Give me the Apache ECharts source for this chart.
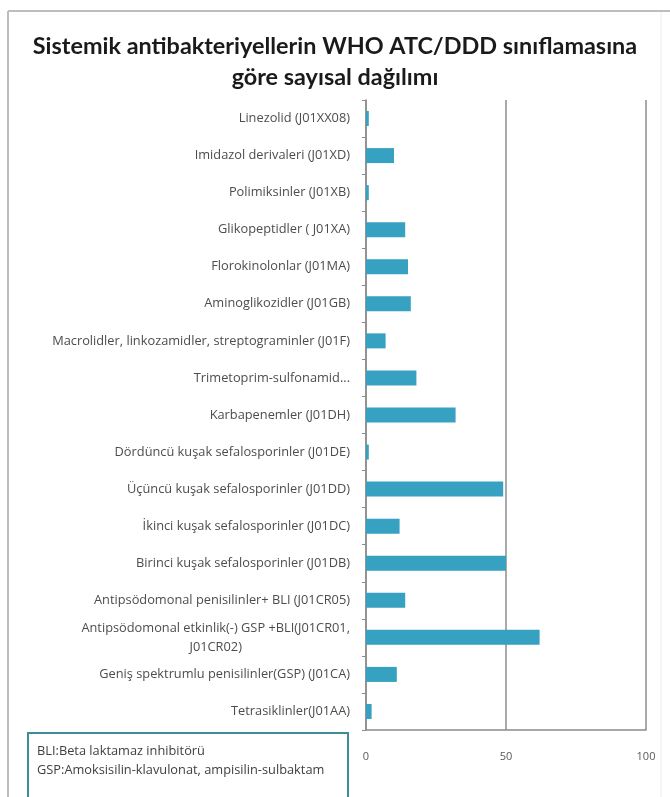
<!DOCTYPE html>
<html>
<head>
<meta charset="utf-8">
<script src="https://cdn.jsdelivr.net/npm/echarts@6/dist/echarts.min.js"></script>
<style>
  html, body { margin: 0; padding: 0; background: #ffffff; }
  #chart { width: 670px; height: 797px; }
</style>
</head>
<body>
<div id="chart"></div>
<script>
// Antibacterial classes (top to bottom) and their counts
const categories = [
  'Linezolid (J01XX08)',
  'Imidazol derivaleri (J01XD)',
  'Polimiksinler (J01XB)',
  'Glikopeptidler ( J01XA)',
  'Florokinolonlar (J01MA)',
  'Aminoglikozidler (J01GB)',
  'Macrolidler, linkozamidler, streptograminler (J01F)',
  'Trimetoprim-sulfonamid...',
  'Karbapenemler (J01DH)',
  'Dördüncü kuşak sefalosporinler (J01DE)',
  'Üçüncü kuşak sefalosporinler (J01DD)',
  'İkinci kuşak sefalosporinler (J01DC)',
  'Birinci kuşak sefalosporinler (J01DB)',
  'Antipsödomonal penisilinler+ BLI (J01CR05)',
  'Antipsödomonal etkinlik(-) GSP +BLI(J01CR01,\nJ01CR02)',
  'Geniş spektrumlu penisilinler(GSP) (J01CA)',
  'Tetrasiklinler(J01AA)'
];
const counts = [1, 10, 1, 14, 15, 16, 7, 18, 32, 1, 49, 12, 50, 14, 62, 11, 2];
const xTicks = [0, 50, 100];

const titleLines = ['Sistemik antibakteriyellerin WHO ATC/DDD sınıflamasına', 'göre sayısal dağılımı'];
const noteLines = ['BLI:Beta laktamaz inhibitörü', 'GSP:Amoksisilin-klavulonat, ampisilin-sulbaktam'];

const chart = echarts.init(document.getElementById('chart'), null, { renderer: 'canvas' });

const labelFont = 'Open Sans';
const labelSize = 12.8;
const labelColor = '#4d4d4d';

chart.setOption({
  backgroundColor: '#ffffff',
  animation: false,
  title: {
    text: titleLines.join('\n'),
    left: 'center',
    top: 26,
    textStyle: {
      fontFamily: 'Lato',
      fontWeight: 'bold',
      fontSize: 23.4,
      lineHeight: 31,
      color: '#1a1a1a'
    }
  },
  grid: { left: 366, right: 24, top: 100, bottom: 67 },
  xAxis: {
    type: 'value',
    min: xTicks[0],
    max: xTicks[xTicks.length - 1],
    interval: 50,
    axisLine: { show: true, lineStyle: { color: '#8c8c8c', width: 1.5 } },
    axisTick: { show: false },
    splitLine: { show: true, lineStyle: { color: '#8c8c8c', width: 1.5 } },
    axisLabel: {
      margin: 21,
      fontFamily: labelFont,
      fontSize: 11,
      color: '#595959'
    }
  },
  yAxis: {
    type: 'category',
    inverse: true,
    data: categories,
    axisLine: { show: true, lineStyle: { color: '#8c8c8c', width: 1.5 } },
    axisTick: { show: true, length: 4, lineStyle: { color: '#8c8c8c' } },
    axisLabel: {
      margin: 16,
      fontFamily: labelFont,
      fontSize: labelSize,
      color: labelColor,
      lineHeight: 19,
      // wrapped labels: each line is centred under the longest one
      formatter: function (v) {
        if (v.indexOf('\n') < 0) return v;
        return v.split('\n').map(l => '{c|' + l + '}').join('\n');
      },
      rich: {
        c: { align: 'center', fontFamily: labelFont, fontSize: labelSize, color: labelColor, lineHeight: 19 }
      }
    }
  },
  series: [{
    type: 'bar',
    data: counts,
    barWidth: 15,
    itemStyle: { color: '#36a1c0' }
  }],
  graphic: [
    // outer frame
    { type: 'line', shape: { x1: 8, y1: 11, x2: 670, y2: 11 }, style: { stroke: '#bdbdbd', lineWidth: 2 } },
    { type: 'line', shape: { x1: 8, y1: 11, x2: 8, y2: 797 }, style: { stroke: '#bdbdbd', lineWidth: 2 } },
    { type: 'line', shape: { x1: 661, y1: 12, x2: 661, y2: 797 }, style: { stroke: '#ececec', lineWidth: 1 } },
    // abbreviation note box
    {
      type: 'rect',
      shape: { x: 28, y: 733, width: 320, height: 80 },
      style: { fill: '#ffffff', stroke: '#3e8e97', lineWidth: 2 }
    },
    {
      type: 'text',
      left: 37,
      top: 742,
      style: {
        text: noteLines.join('\n'),
        fontFamily: labelFont,
        fontSize: 12.8,
        lineHeight: 19,
        fill: '#404040'
      }
    }
  ]
});
</script>
</body>
</html>
